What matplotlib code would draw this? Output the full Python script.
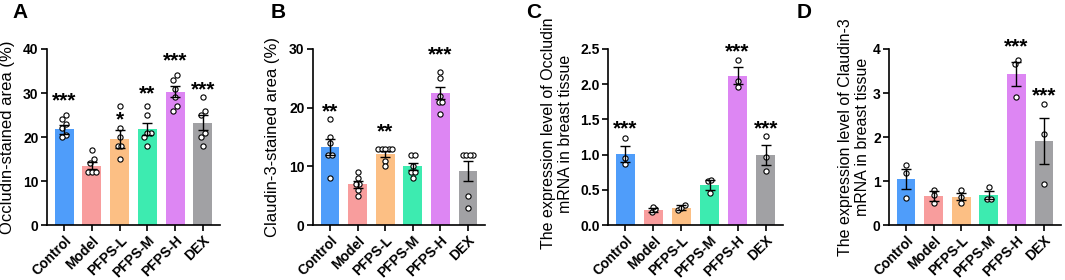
import numpy as np
import matplotlib
matplotlib.use('Agg')
import matplotlib.pyplot as plt

plt.rcParams['font.family'] = ['Liberation Sans', 'DejaVu Sans']

groups = ['Control', 'Model', 'PFPS-L', 'PFPS-M', 'PFPS-H', 'DEX']
colors = ['#4f9dfa', '#f89d9d', '#fcbf84', '#3debb0', '#dd86f3', '#a1a1a4']

# panel A - Occludin-stained area (%)
occ_area_mean = [21.8, 13.5, 19.6, 21.8, 30.3, 23.2]
occ_area_sem = [1.0, 0.8, 2.0, 1.4, 1.3, 1.7]
occ_area_pts = [[25, 24, 23, 22, 20.5, 20], [17, 15, 14, 12, 12, 12],
                [27, 22, 20, 18, 18, 15], [27, 25, 21, 21, 20, 18],
                [34, 33, 31, 29, 27, 26], [29, 26, 25, 21, 20, 18]]
occ_area_stars = ['***', '', '*', '**', '***', '***']
occ_area_star_y = [28.3, 0, 23.8, 29.8, 37.3, 30.8]

# panel B - Claudin-3-stained area (%)
cld_area_mean = [13.3, 7.0, 12.1, 10.0, 22.5, 9.3]
cld_area_sem = [1.4, 0.6, 0.55, 0.65, 1.1, 1.7]
cld_area_pts = [[18, 15, 14, 12, 12, 8], [9, 8, 7, 7, 6, 5],
                [13, 13, 13, 13, 13, 11, 10], [12, 12, 10, 9, 9, 8],
                [26, 25, 22, 21, 21, 19], [12, 12, 12, 12, 5, 3]]
cld_area_stars = ['**', '', '**', '', '***', '']
cld_area_star_y = [19.3, 0, 15.8, 0, 29.0, 0]

# panel C - Occludin mRNA
occ_mrna_mean = [1.01, 0.22, 0.25, 0.57, 2.12, 1.0]
occ_mrna_sem = [0.11, 0.03, 0.03, 0.07, 0.12, 0.14]
occ_mrna_pts = [[1.23, 0.95, 0.87], [0.18, 0.23, 0.26], [0.22, 0.28, 0.25],
                [0.63, 0.64, 0.45], [2.35, 2.05, 1.96], [1.27, 0.97, 0.77]]
occ_mrna_stars = ['***', '', '', '', '***', '***']
occ_mrna_star_y = [1.37, 0, 0, 0, 2.46, 1.37]

# panel D - Claudin-3 mRNA
cld_mrna_mean = [1.05, 0.66, 0.65, 0.69, 3.43, 1.91]
cld_mrna_sem = [0.22, 0.11, 0.09, 0.09, 0.27, 0.53]
cld_mrna_pts = [[1.36, 1.18, 0.62], [0.8, 0.68, 0.5], [0.8, 0.65, 0.5],
                [0.87, 0.6, 0.6], [3.75, 3.65, 2.9], [2.75, 2.07, 0.93]]
cld_mrna_stars = ['', '', '', '', '***', '***']
cld_mrna_star_y = [0, 0, 0, 0, 4.05, 2.93]


def swarm(vals, tol, step=0.13):
    # spread points with near-equal values sideways
    vals = np.asarray(vals, float)
    order = np.argsort(vals)
    offs = np.zeros(len(vals))
    i = 0
    while i < len(order):
        j = i
        while j + 1 < len(order) and vals[order[j + 1]] - vals[order[i]] < tol:
            j += 1
        n = j - i + 1
        for k in range(n):
            offs[order[i + k]] = (k - (n - 1) / 2) * step
        i = j + 1
    return offs


def draw(ax, mean, sem, pts, stars, star_y, ymax, ticks, ylabel, lsize, fmt=None):
    x = np.arange(len(groups))
    ax.bar(x, mean, width=0.68, color=colors, zorder=1)
    for i, p in enumerate(pts):
        off = swarm(p, ymax * 0.03)
        ax.scatter(x[i] + off, p, s=14, facecolor='white', edgecolor='black',
                   linewidth=0.8, zorder=2)
    ax.errorbar(x, mean, yerr=sem, fmt='none', ecolor='black', elinewidth=1.0,
                capsize=3.5, capthick=1.0, zorder=3)
    for i, s in enumerate(stars):
        if s:
            ax.text(x[i], star_y[i], s, ha='center', va='center',
                    fontsize=15, fontweight='bold', clip_on=False)
    ax.set_xlim(-0.62, 5.62)
    ax.set_ylim(0, ymax)
    ax.set_yticks(ticks)
    if fmt:
        ax.set_yticklabels([fmt % t for t in ticks])
    ax.set_xticks(x)
    ax.set_xticklabels(groups, rotation=45, ha='right', va='top',
                       rotation_mode='anchor', fontweight='bold', fontsize=10)
    for lab in ax.get_yticklabels():
        lab.set_fontweight('bold')
        lab.set_fontsize(10)
    ax.spines['top'].set_visible(False)
    ax.spines['right'].set_visible(False)
    ax.spines['left'].set_linewidth(1.2)
    ax.spines['bottom'].set_linewidth(1.2)
    ax.tick_params(width=1.2, length=4, pad=2)
    ax.set_ylabel(ylabel, fontsize=lsize)


fig = plt.figure(figsize=(10.65, 2.8), dpi=100)
bottom, height = 0.196, 0.629
axA = fig.add_axes([47 / 1065, bottom, 173 / 1065, height])
axB = fig.add_axes([313 / 1065, bottom, 172 / 1065, height])
axC = fig.add_axes([608 / 1065, bottom, 175 / 1065, height])
axD = fig.add_axes([889 / 1065, bottom, 172 / 1065, height])

draw(axA, occ_area_mean, occ_area_sem, occ_area_pts, occ_area_stars, occ_area_star_y,
     40, [0, 10, 20, 30, 40], 'Occludin-stained area (%)', 12)
draw(axB, cld_area_mean, cld_area_sem, cld_area_pts, cld_area_stars, cld_area_star_y,
     30, [0, 10, 20, 30], 'Claudin-3-stained area (%)', 12)
draw(axC, occ_mrna_mean, occ_mrna_sem, occ_mrna_pts, occ_mrna_stars, occ_mrna_star_y,
     2.5, [0, 0.5, 1.0, 1.5, 2.0, 2.5],
     'The expression level of Occludin\nmRNA in breast tissue', 11.5, fmt='%.1f')
draw(axD, cld_mrna_mean, cld_mrna_sem, cld_mrna_pts, cld_mrna_stars, cld_mrna_star_y,
     4, [0, 1, 2, 3, 4],
     'The expression level of Claudin-3\nmRNA in breast tissue', 11.5)

axA.yaxis.set_label_coords(-0.185, 0.5)
axB.yaxis.set_label_coords(-0.19, 0.5)
axC.yaxis.set_label_coords(-0.20, 0.52)
axD.yaxis.set_label_coords(-0.11, 0.5)

for lx, letter in [(12, 'A'), (271, 'B'), (526, 'C'), (797, 'D')]:
    fig.text(lx / 1065, 1 - 3 / 280, letter, fontsize=15, fontweight='bold',
             ha='left', va='top')

fig.savefig('out.png', dpi=100)
